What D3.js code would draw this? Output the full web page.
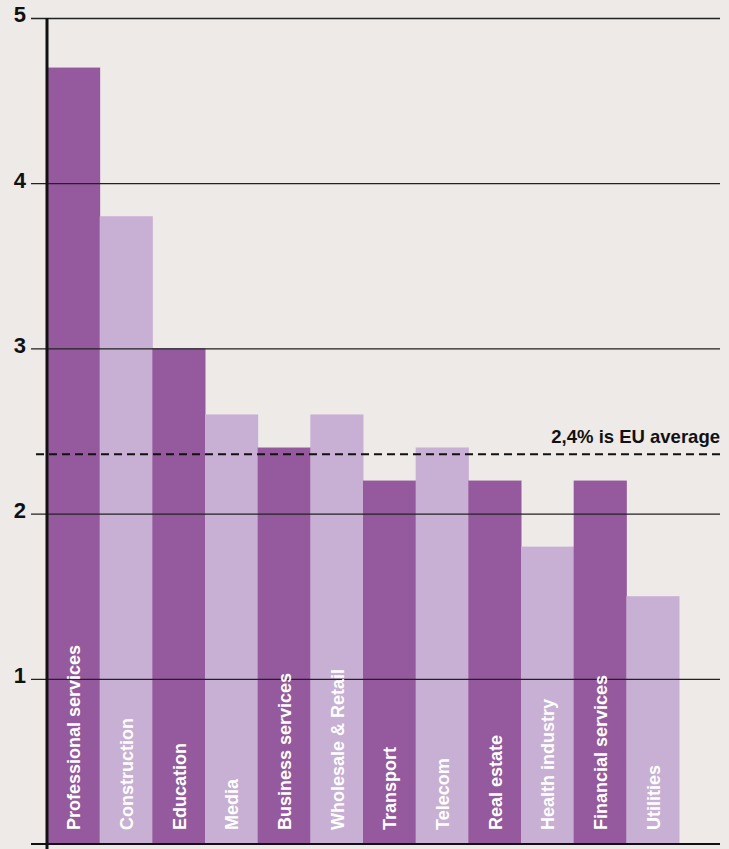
<!DOCTYPE html>
<html>
<head>
<meta charset="utf-8">
<script src="https://cdn.jsdelivr.net/npm/d3@7"></script>
<style>
    html, body { margin: 0; padding: 0; background: #eeeae7; }
    svg { display: block; }
    .tick-label { font-family: "Liberation Sans", Arial, sans-serif; font-weight: 700; font-size: 22px; fill: #111; }
    .bar-label { font-family: "Liberation Sans", Arial, sans-serif; font-weight: 700; font-size: 18px; fill: #fff; }
    .avg-label { font-family: "Liberation Sans", Arial, sans-serif; font-weight: 700; font-size: 18.5px; fill: #111; }
</style>
</head>
<body>
<div id="chart"></div>
<script>
var categories = ["Professional services", "Construction", "Education", "Media", "Business services",
    "Wholesale & Retail", "Transport", "Telecom", "Real estate", "Health industry",
    "Financial services", "Utilities"];
var values = [4.7, 3.8, 3.0, 2.6, 2.4, 2.6, 2.2, 2.4, 2.2, 1.8, 2.2, 1.5];
var yTicks = [1, 2, 3, 4, 5];
var euAverage = 2.36;
var euLabel = "2,4% is EU average";

var width = 729,
    height = 849,
    axisX = 47,
    barsRight = 679,
    gridLeft = 31,
    gridRight = 720;

var colors = ["#955a9e", "#c8afd4"];

var svg = d3.select("#chart").append("svg")
    .attr("width", width)
    .attr("height", height);

var x = d3.scaleBand().domain(categories).range([axisX, barsRight]).padding(0);
var y = d3.scaleLinear().domain([0, 5]).range([844, 18]);

// bars
svg.append("g").selectAll("rect").data(categories).enter()
    .append("rect")
    .attr("x", function(d) { return x(d); })
    .attr("y", function(d, i) { return y(values[i]); })
    .attr("width", x.bandwidth() + 0.5)
    .attr("height", function(d, i) { return y(0) - y(values[i]); })
    .attr("fill", function(d, i) { return colors[i % 2]; });

// gridlines drawn over the bars
var yAxis = d3.axisLeft(y).tickValues(yTicks).tickSize(-(gridRight - gridLeft)).tickFormat("");
svg.append("g")
    .attr("transform", "translate(" + gridLeft + ",0)")
    .call(yAxis)
    .call(function(g) {
        g.select(".domain").remove();
        g.selectAll(".tick line").attr("stroke", "#222").attr("stroke-width", 1.3);
    });

// tick labels
svg.append("g").selectAll("text").data(yTicks).enter()
    .append("text")
    .attr("class", "tick-label")
    .attr("x", 26)
    .attr("y", function(d) { return y(d); })
    .attr("dy", "0.2em")
    .attr("text-anchor", "end")
    .text(function(d) { return d; });

// bar labels
svg.append("g").selectAll("text").data(categories).enter()
    .append("text")
    .attr("class", "bar-label")
    .attr("transform", function(d) {
        return "translate(" + (x(d) + x.bandwidth() / 2 + 7) + ",830) rotate(-90)";
    })
    .text(function(d) { return d; });

// EU average
svg.append("line")
    .attr("x1", 36).attr("x2", gridRight)
    .attr("y1", y(euAverage)).attr("y2", y(euAverage))
    .attr("stroke", "#111")
    .attr("stroke-width", 2)
    .attr("stroke-dasharray", "8,5");
svg.append("text")
    .attr("class", "avg-label")
    .attr("x", gridRight)
    .attr("y", y(euAverage) - 11)
    .attr("text-anchor", "end")
    .text(euLabel);

// baseline and vertical axis
svg.append("line")
    .attr("x1", gridLeft).attr("x2", gridRight)
    .attr("y1", y(0)).attr("y2", y(0))
    .attr("stroke", "#111").attr("stroke-width", 2);
svg.append("line")
    .attr("x1", axisX).attr("x2", axisX)
    .attr("y1", y(5)).attr("y2", height)
    .attr("stroke", "#111").attr("stroke-width", 3);
</script>
</body>
</html>
